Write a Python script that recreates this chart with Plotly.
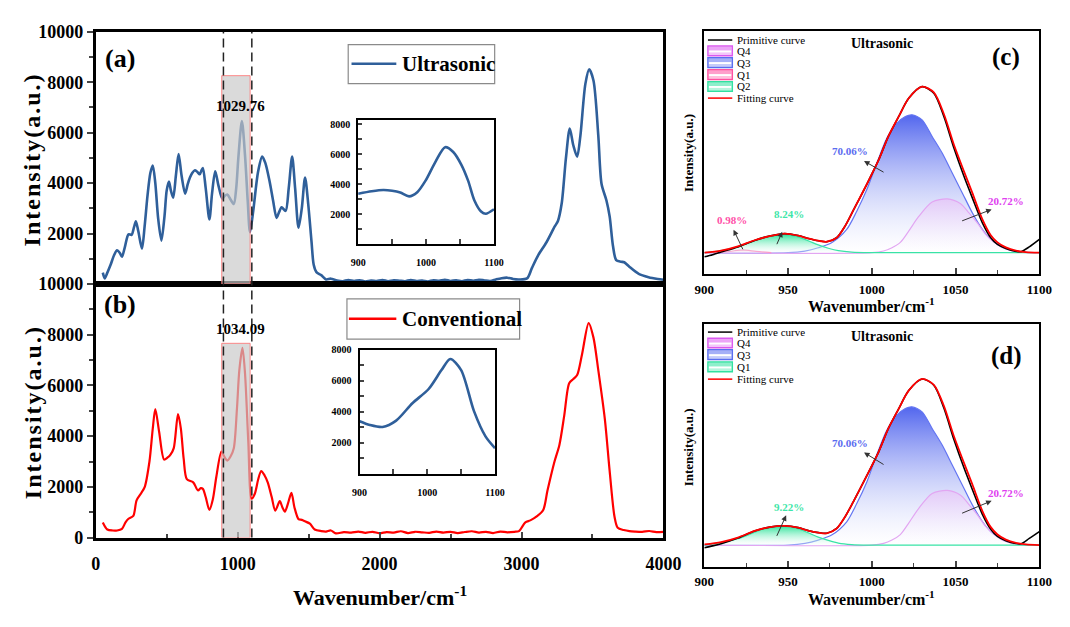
import plotly.graph_objects as go

W, H = 1070, 627
def PX(x): return x / W
def PY(y): return 1 - y / H

SERIF = "Liberation Serif"
BLUE = "#2F5F9A"
RED = "#FF0000"

# ---------------- data: main spectra ----------------
ultra_x = [50, 64, 80, 105, 130, 151, 170, 185, 205, 231, 253, 270, 283, 300, 326, 345, 365, 385, 402, 420,
           440, 463, 485, 500, 516, 530, 546, 565, 584, 605, 630, 648, 664, 680, 699, 715, 733, 745, 755, 775,
           801, 820, 842, 865, 892, 910, 927, 950, 973, 990, 1005, 1030, 1052, 1071, 1087, 1110, 1144, 1173, 1195, 1224,
           1250, 1274, 1292, 1310, 1338, 1360, 1384, 1405, 1429, 1452, 1475, 1497, 1521, 1536, 1555, 1589, 1623, 1657, 1700, 1740,
           1780, 1820, 1860, 1900, 1940, 1980, 2020, 2060, 2100, 2140, 2180, 2220, 2260, 2300, 2340, 2380, 2420, 2460, 2500, 2540,
           2580, 2620, 2660, 2700, 2740, 2780, 2820, 2860, 2900, 2940, 2980, 3039, 3073, 3118, 3176, 3233, 3256, 3283, 3313, 3340,
           3365, 3392, 3415, 3450, 3477, 3507, 3541, 3564, 3598, 3621, 3644, 3667, 3701, 3724, 3758, 3826, 3895, 3960, 4000]
ultra_y = [450, 220, 420, 760, 1150, 1335, 1230, 1080, 1450, 1970, 1950, 2250, 2490, 2100, 1400, 2300, 3500, 4400, 4700, 4000,
           2600, 1720, 2700, 3700, 4060, 3700, 3420, 4300, 5150, 4300, 3580, 3950, 4220, 4400, 4510, 4450, 4350, 4500, 4600, 3800,
           2560, 3600, 4470, 3900, 3380, 3500, 3550, 3350, 3170, 3800, 5000, 6460, 5100, 3300, 2050, 2900, 4450, 5050, 4800, 4100,
           3300, 2620, 2850, 3040, 2900, 3800, 5050, 3800, 2230, 3000, 4220, 3190, 1650, 760, 470, 350, 180, 210, 140, 110,
           160, 120, 150, 100, 140, 120, 160, 110, 150, 130, 110, 160, 120, 140, 100, 150, 130, 170, 120, 150,
           110, 160, 130, 170, 140, 120, 180, 230, 250, 200, 180, 220, 627, 1140, 1654, 2270, 2490, 3190, 4990, 6165,
           5500, 5050, 5885, 7935, 8510, 8065, 5885, 3960, 3320, 2680, 1527, 950, 885, 860, 692, 400, 270, 200, 170]

conv_x = [50, 82, 120, 151, 185, 210, 231, 265, 288, 320, 345, 379, 402, 420, 447, 482, 505, 527, 550, 580,
          600, 620, 642, 687, 721, 740, 755, 775, 801, 825, 850, 886, 910, 927, 950, 973, 995, 1012, 1034, 1052,
          1075, 1098, 1121, 1145, 1166, 1190, 1212, 1240, 1265, 1297, 1315, 1333, 1355, 1379, 1400, 1429, 1452, 1475, 1509, 1543,
          1589, 1623, 1657, 1692, 1749, 1800, 1850, 1900, 1950, 2000, 2050, 2100, 2150, 2200, 2250, 2300, 2350, 2400, 2450, 2500,
          2550, 2600, 2650, 2700, 2750, 2800, 2850, 2900, 2950, 2982, 3027, 3062, 3107, 3153, 3183, 3233, 3267, 3301, 3336, 3365,
          3392, 3427, 3473, 3507, 3541, 3587, 3621, 3655, 3678, 3720, 3760, 3800, 3850, 3900, 3950, 4000]
conv_y = [600, 320, 280, 282, 346, 600, 743, 858, 1470, 1750, 1990, 3010, 4300, 5065, 4165, 3077, 3150, 3270, 3530, 4870,
          4300, 3100, 2308, 2180, 1858, 1950, 1923, 1600, 1090, 1500, 2400, 3396, 3150, 3038, 3200, 3526, 5065, 6600, 7480, 6473,
          3781, 1538, 1731, 2300, 2627, 2450, 2180, 1600, 1065, 1435, 1200, 1025, 1350, 1769, 1200, 730, 700, 641, 550, 320,
          257, 240, 282, 167, 218, 200, 240, 190, 230, 170, 220, 200, 250, 180, 230, 210, 190, 240, 200, 230,
          180, 220, 250, 200, 230, 180, 240, 210, 230, 257, 603, 680, 833, 1090, 1858, 3011, 3654, 4808, 6090, 6250,
          6410, 7243, 8460, 7885, 6600, 4680, 2627, 833, 385, 300, 257, 240, 230, 260, 220, 230]

main_y_ticks = [0, 2000, 4000, 6000, 8000, 10000]
main_x_ticks = [0, 1000, 2000, 3000, 4000]

# ---------------- data: insets ----------------
inset_u_x = [900, 920, 937, 950, 962, 975, 987, 999, 1014, 1028, 1040, 1052, 1062, 1071, 1081, 1088, 1100]
inset_u_y = [3355, 3520, 3610, 3560, 3440, 3180, 3460, 4215, 5505, 6470, 6150, 5290, 4215, 2925, 2170, 2020, 2320]
inset_c_x = [900, 915, 934, 954, 978, 1002, 1021, 1034, 1050, 1069, 1086, 1100]
inset_c_y = [3390, 3150, 3020, 3430, 4550, 5470, 6690, 7410, 6690, 4040, 2410, 1650]

# ---------------- data: peak fitting (c) ----------------
c_prim_x = [900, 905, 910, 920, 930, 939, 948, 956, 962, 968, 973, 979, 984, 989, 997, 1004, 1010, 1016, 1022, 1030,
            1037, 1043, 1049, 1055, 1060, 1066, 1071, 1075, 1080, 1085, 1089, 1094, 1100]
c_prim_y = [-0.025, -0.012, 0.004, 0.035, 0.073, 0.100, 0.115, 0.103, 0.086, 0.072, 0.066, 0.090, 0.160, 0.256, 0.412, 0.557, 0.703, 0.819, 0.930, 1.000,
            0.960, 0.820, 0.630, 0.460, 0.330, 0.180, 0.090, 0.050, 0.025, 0.010, 0.006, 0.035, 0.080]
c_fit_x = [900, 910, 920, 930, 939, 948, 956, 962, 968, 973, 979, 984, 989, 997, 1004, 1010, 1016, 1022, 1030, 1037,
           1043, 1049, 1055, 1060, 1066, 1071, 1075, 1080, 1086, 1092, 1100]
c_fit_y = [0.0, 0.012, 0.038, 0.075, 0.100, 0.115, 0.103, 0.086, 0.072, 0.066, 0.090, 0.160, 0.256, 0.412, 0.557, 0.703, 0.819, 0.930, 1.000, 0.965,
           0.835, 0.650, 0.490, 0.360, 0.200, 0.105, 0.062, 0.032, 0.012, 0.003, 0.0]
c_q3_x = [900, 950, 960, 968, 976, 985, 991, 997, 1003, 1009, 1015, 1020, 1024, 1030, 1036, 1042, 1048, 1054, 1060, 1066, 1071, 1077, 1083, 1090, 1100]
c_q3_y = [0.0, 0.0, 0.010, 0.030, 0.060, 0.140, 0.250, 0.380, 0.540, 0.690, 0.780, 0.820, 0.830, 0.800, 0.700, 0.600, 0.480, 0.360, 0.240, 0.140, 0.080, 0.040, 0.013, 0.003, 0.0]
c_q4_x = [900, 1000, 1007, 1012, 1017, 1022, 1028, 1036, 1045, 1053, 1058, 1063, 1068, 1073, 1078, 1084, 1090, 1100]
c_q4_y = [0.0, 0.0, 0.010, 0.030, 0.062, 0.130, 0.218, 0.305, 0.324, 0.295, 0.240, 0.179, 0.110, 0.062, 0.030, 0.010, 0.002, 0.0]
c_q2_x = [900, 910, 920, 927, 933, 940, 948, 955, 962, 968, 974, 980, 988, 1000, 1100]
c_q2_y = [0.0, 0.012, 0.035, 0.060, 0.086, 0.102, 0.109, 0.098, 0.072, 0.047, 0.027, 0.012, 0.003, 0.0, 0.0]
c_q1_x = [905, 915, 923, 931, 940]
c_q1_y = [0.0, 0.008, 0.017, 0.008, 0.0]

# ---------------- data: peak fitting (d) ----------------
d_prim_x = [900, 905, 910, 920, 930, 939, 948, 956, 962, 968, 973, 979, 984, 989, 997, 1004, 1010, 1016, 1022, 1030,
            1037, 1043, 1049, 1055, 1060, 1066, 1071, 1075, 1080, 1085, 1089, 1094, 1100]
d_prim_y = [-0.016, -0.005, 0.008, 0.042, 0.085, 0.108, 0.116, 0.105, 0.087, 0.075, 0.071, 0.100, 0.170, 0.262, 0.418, 0.560, 0.705, 0.820, 0.930, 1.000,
            0.962, 0.825, 0.635, 0.465, 0.335, 0.185, 0.095, 0.052, 0.026, 0.011, 0.008, 0.040, 0.081]
d_fit_x = [900, 910, 920, 930, 939, 948, 956, 962, 968, 973, 979, 984, 989, 997, 1004, 1010, 1016, 1022, 1030, 1037,
           1043, 1049, 1055, 1060, 1066, 1071, 1075, 1080, 1086, 1092, 1100]
d_fit_y = [0.004, 0.018, 0.045, 0.085, 0.108, 0.116, 0.105, 0.087, 0.075, 0.071, 0.100, 0.170, 0.262, 0.418, 0.560, 0.705, 0.820, 0.930, 1.000, 0.965,
           0.838, 0.655, 0.495, 0.365, 0.205, 0.108, 0.064, 0.033, 0.013, 0.004, 0.0]
d_q3_x = [900, 950, 960, 968, 976, 985, 991, 997, 1003, 1009, 1015, 1020, 1024, 1030, 1036, 1042, 1048, 1054, 1060, 1066, 1071, 1077, 1083, 1090, 1100]
d_q3_y = [0.0, 0.0, 0.010, 0.030, 0.060, 0.140, 0.250, 0.380, 0.545, 0.692, 0.782, 0.822, 0.832, 0.802, 0.702, 0.602, 0.482, 0.362, 0.242, 0.142, 0.080, 0.040, 0.013, 0.003, 0.0]
d_q4_x = [900, 1000, 1007, 1012, 1017, 1022, 1028, 1036, 1045, 1053, 1058, 1063, 1068, 1073, 1078, 1084, 1090, 1100]
d_q4_y = [0.0, 0.0, 0.010, 0.030, 0.063, 0.132, 0.221, 0.310, 0.329, 0.300, 0.244, 0.182, 0.112, 0.063, 0.030, 0.010, 0.002, 0.0]
d_q1_x = [900, 910, 920, 927, 933, 940, 948, 955, 962, 968, 974, 980, 988, 1000, 1100]
d_q1_y = [0.0, 0.014, 0.038, 0.064, 0.090, 0.106, 0.112, 0.101, 0.074, 0.048, 0.028, 0.012, 0.003, 0.0, 0.0]

# labels
pct_c = ["0.98%", "8.24%", "70.06%", "20.72%"]
pct_d = ["9.22%", "70.06%", "20.72%"]

Q3C, Q4C, Q2C, Q1C = "#6375F2", "#E2A6F2", "#39E3A6", "#FF7AB8"

fig = go.Figure()

def spline_trace(x, y, xa, ya, color, width, **kw):
    return go.Scatter(x=x, y=y, xaxis=xa, yaxis=ya, mode="lines",
                      line=dict(color=color, width=width, shape="spline", smoothing=0.8),
                      hoverinfo="skip", showlegend=False, **kw)

fig.add_trace(spline_trace(ultra_x, ultra_y, "x", "y", BLUE, 2.6))
fig.add_trace(spline_trace(conv_x, conv_y, "x2", "y2", RED, 2.2))
fig.add_trace(spline_trace(inset_u_x, inset_u_y, "x3", "y3", BLUE, 2.6))
fig.add_trace(spline_trace(inset_c_x, inset_c_y, "x4", "y4", BLUE, 2.6))

def comp(x, y, xa, ya, color, top):
    return spline_trace(x, y, xa, ya, color, 1.2, fill="tozeroy",
                        fillgradient=dict(type="vertical",
                                          colorscale=[[0, "rgba(255,255,255,0.3)"], [1, top]]))

fig.add_trace(comp(c_q3_x, c_q3_y, "x5", "y5", Q3C, "rgb(82,102,238)"))
fig.add_trace(comp(c_q4_x, c_q4_y, "x5", "y5", Q4C, "rgb(228,202,248)"))
fig.add_trace(comp(c_q1_x, c_q1_y, "x5", "y5", Q1C, "rgb(255,170,210)"))
fig.add_trace(comp(c_q2_x, c_q2_y, "x5", "y5", Q2C, "rgb(55,228,158)"))
fig.add_trace(spline_trace(c_prim_x, c_prim_y, "x5", "y5", "black", 1.6))
fig.add_trace(spline_trace(c_fit_x, c_fit_y, "x5", "y5", RED, 1.8))

fig.add_trace(comp(d_q3_x, d_q3_y, "x6", "y6", Q3C, "rgb(82,102,238)"))
fig.add_trace(comp(d_q4_x, d_q4_y, "x6", "y6", Q4C, "rgb(228,202,248)"))
fig.add_trace(comp(d_q1_x, d_q1_y, "x6", "y6", Q2C, "rgb(55,228,158)"))
fig.add_trace(spline_trace(d_prim_x, d_prim_y, "x6", "y6", "black", 1.6))
fig.add_trace(spline_trace(d_fit_x, d_fit_y, "x6", "y6", RED, 1.8))

# ---------------- axes ----------------
LINE = dict(showline=True, linecolor="black", mirror=True, showgrid=False, zeroline=False)
main_dom_x = [PX(88), PX(671)]
big = dict(family=SERIF, size=18, color="black", weight="bold")
minor_y = dict(tickvals=[1000, 3000, 5000, 7000, 9000], ticks="outside", ticklen=4, tickwidth=1.5)

layout = dict(
    width=W, height=H, autosize=False,
    margin=dict(l=0, r=0, t=0, b=0),
    paper_bgcolor="white", plot_bgcolor="white",
    showlegend=False,
    xaxis=dict(domain=main_dom_x, anchor="y", range=[0, 4000], showticklabels=False, ticks="",
               linewidth=2.5, **LINE),
    yaxis=dict(domain=[PY(283), PY(22.5)], anchor="x", range=[0, 10000],
               tickvals=main_y_ticks[1:], ticktext=[str(v) for v in main_y_ticks[1:]],
               ticks="outside", ticklen=6, tickwidth=2, minor=minor_y,
               tickfont=big, linewidth=2.5, **LINE),
    xaxis2=dict(domain=main_dom_x, anchor="y2", range=[0, 4000],
                tickvals=main_x_ticks, ticktext=[str(v) for v in main_x_ticks],
                ticks="inside", ticklen=6, tickwidth=2,
                minor=dict(tickvals=[500, 1500, 2500, 3500], ticks="inside", ticklen=4, tickwidth=1.5),
                tickfont=big, ticklabelstandoff=8, linewidth=2.5, **LINE),
    yaxis2=dict(domain=[PY(545), PY(283)], anchor="x2", range=[0, 10000],
                tickvals=main_y_ticks, ticktext=[str(v) for v in main_y_ticks],
                ticks="outside", ticklen=6, tickwidth=2, minor=minor_y,
                tickfont=big, linewidth=2.5, **LINE),
)

small = dict(family=SERIF, size=10, color="black", weight="bold")
def inset_axes(xd, yd, yr, xa, ya):
    xax = dict(domain=xd, anchor=ya, range=[900, 1100],
               tickvals=[900, 950, 1000, 1050, 1100], ticktext=["900", " ", "1000", " ", "1100"],
               ticks="inside", ticklen=5, tickwidth=1.5, tickfont=small, ticklabelstandoff=8,
               linewidth=2, **LINE)
    yax = dict(domain=yd, anchor=xa, range=yr,
               tickvals=[1000, 2000, 3000, 4000, 5000, 6000, 7000, 8000],
               ticktext=[" ", "2000", " ", "4000", " ", "6000", " ", "8000"],
               ticks="inside", ticklen=4, tickwidth=1.5, tickfont=small, ticklabelstandoff=4,
               linewidth=2, **LINE)
    return xax, yax

layout["xaxis3"], layout["yaxis3"] = inset_axes([PX(357.5), PX(497)], [PY(241.7), PY(114)], [0, 8260], "x3", "y3")
layout["xaxis4"], layout["yaxis4"] = inset_axes([PX(359), PX(498)], [PY(479), PY(351)], [0, 8000], "x4", "y4")

mid = dict(family=SERIF, size=13, color="black", weight="bold")
def fit_axes(yd, xa, ya):
    xax = dict(domain=[PX(713), PX(1057)], anchor=ya, range=[900, 1100],
               tickvals=[900, 950, 1000, 1050, 1100], ticks="inside", ticklen=6, tickwidth=1.5,
               minor=dict(tickvals=[925, 975, 1025, 1075], ticks="inside", ticklen=4, tickwidth=1.2),
               tickfont=mid, ticklabelstandoff=2, linewidth=2, **LINE)
    yax = dict(domain=yd, anchor=xa, range=[-0.13, 1.333], showticklabels=False, ticks="",
               linewidth=2, **LINE)
    return xax, yax

layout["xaxis5"], layout["yaxis5"] = fit_axes([PY(273), PY(22)], "x5", "y5")
layout["xaxis6"], layout["yaxis6"] = fit_axes([PY(575), PY(324)], "x6", "y6")

# ---------------- shapes ----------------
shapes = []
def prect(x0, y0, x1, y1, line_color, fill, width=1):
    shapes.append(dict(type="rect", xref="paper", yref="paper", x0=PX(x0), x1=PX(x1), y0=PY(y1), y1=PY(y0),
                       line=dict(color=line_color, width=width), fillcolor=fill, layer="above"))
def pline(x0, y0, x1, y1, color, width, dash="solid"):
    shapes.append(dict(type="line", xref="paper", yref="paper", x0=PX(x0), x1=PX(x1), y0=PY(y0), y1=PY(y1),
                       line=dict(color=color, width=width, dash=dash), layer="above"))

# highlighted band
shapes.append(dict(type="rect", xref="x", yref="y", x0=888, x1=1088, y0=0, y1=8260,
                   fillcolor="rgba(200,200,200,0.68)", line=dict(color="rgba(255,110,110,0.8)", width=1), layer="above"))
shapes.append(dict(type="rect", xref="x2", yref="y2", x0=888, x1=1088, y0=0, y1=7660,
                   fillcolor="rgba(200,200,200,0.68)", line=dict(color="rgba(255,110,110,0.8)", width=1), layer="above"))
for xv in (900, 1100):
    shapes.append(dict(type="line", xref="x", yref="paper", x0=xv, x1=xv, y0=PY(545), y1=PY(22.5),
                       line=dict(color="#222222", width=1.5, dash="9px,5px"), layer="above"))

# legends of (a) and (b)
prect(347.3, 35.7, 497.7, 76, "#8a8a8a", "white", 1.2)
pline(350.7, 55.5, 396.7, 55.5, BLUE, 2.6)
prect(346, 298.3, 523.3, 340, "#8a8a8a", "white", 1.2)
pline(348, 319, 396.7, 319, RED, 2.4)

# legends of (c) and (d)
def fit_legend(rows):
    for y, kind, color in rows:
        if kind == "line":
            pline(716.7, y, 741.7, y, color, 1.5)
        else:
            prect(716.7, y - 5, 741.7, y + 5, color, "white", 1.5)
            prect(717.5, y - 4.3, 740.9, y - 0.5, "rgba(0,0,0,0)", color.replace("rgb", "rgba").replace(")", ",0.55)"), 0)
            prect(717.5, y + 1.5, 740.9, y + 4.3, "rgba(0,0,0,0)", color.replace("rgb", "rgba").replace(")", ",0.35)"), 0)

c_rows = [(31, "line", "black"), (42.3, "box", "rgb(220,90,240)"), (54.3, "box", "rgb(90,110,240)"),
          (66.7, "box", "rgb(255,80,160)"), (79, "box", "rgb(50,225,160)"), (91, "line", RED)]
d_rows = [(332.7, "line", "black"), (344, "box", "rgb(220,90,240)"), (356, "box", "rgb(90,110,240)"),
          (368.7, "box", "rgb(50,225,160)"), (381.3, "line", RED)]
fit_legend(c_rows)
fit_legend(d_rows)
c_names = ["Primitive curve", "Q4", "Q3", "Q1", "Q2", "Fitting curve"]
d_names = ["Primitive curve", "Q4", "Q3", "Q1", "Fitting curve"]

# ---------------- annotations ----------------
ann = []
def txt(x, y, s, size, color="black", bold=True, xanchor="center", angle=0):
    ann.append(dict(x=PX(x), y=PY(y), xref="paper", yref="paper", text=s, showarrow=False,
                    font=dict(family=SERIF, size=size, color=color, weight="bold" if bold else "normal"),
                    xanchor=xanchor, yanchor="middle", textangle=angle))
def arrow(hx, hy, tx, ty):
    ann.append(dict(x=PX(hx), y=PY(hy), xref="paper", yref="paper", text="", showarrow=True,
                    ax=tx - hx, ay=ty - hy, arrowhead=2, arrowsize=1.1, arrowwidth=1, arrowcolor="#333333"))

hs = "\u200a"
ytitle = hs.join("Intensity(a.u.)")
txt(23, 155, ytitle, 24, angle=-90)
txt(23, 416, ytitle, 24, angle=-90)
txt(380, 605, "Wavenumber/cm<sup>-1</sup>", 22)
txt(113, 50, "(a)", 26)
txt(113, 304, "(b)", 26)
txt(237, 99.3, "1029.76", 15)
txt(237, 329.3, "1034.09", 15)
txt(400, 55.5, "Ultrasonic", 21, xanchor="left")
txt(400, 319, "Conventional", 21, xanchor="left")

for (y, _, _), name in zip(c_rows, c_names):
    txt(744, y, name, 11, bold=False, xanchor="left")
for (y, _, _), name in zip(d_rows, d_names):
    txt(744, y, name, 11, bold=False, xanchor="left")

txt(895, 35, "Ultrasonic", 14)
txt(895, 337, "Ultrasonic", 14)
txt(1023, 49, "(c)", 25)
txt(1023, 357, "(d)", 25)
txt(697, 148, "Intensity(a.u.)", 13, angle=-90)
txt(697, 452, "Intensity(a.u.)", 13, angle=-90)
txt(885, 305, "Wavenumber/cm<sup>-1</sup>", 16)
txt(885, 607, "Wavenumber/cm<sup>-1</sup>", 16)

txt(741, 217, pct_c[0], 11, color="#FF4FA8")
txt(800, 211, pct_c[1], 11, color="#3EE6A8")
txt(863, 146, pct_c[2], 11, color="#5B6CF0")
txt(1023, 197, pct_c[3], 11, color="#E040F0")
arrow(743, 227, 753, 248)
arrow(793, 229, 787, 243)
arrow(877, 156, 898, 168)
arrow(1008, 206, 977, 218)

txt(800, 513, pct_d[0], 11, color="#3EE6A8")
txt(863, 447, pct_d[1], 11, color="#5B6CF0")
txt(1023, 499, pct_d[2], 11, color="#E040F0")
arrow(797, 522, 787, 544)
arrow(877, 457, 898, 470)
arrow(1008, 507, 977, 520)

layout["shapes"] = shapes
layout["annotations"] = ann
fig.update_layout(**layout)
fig.write_html("out.html")
